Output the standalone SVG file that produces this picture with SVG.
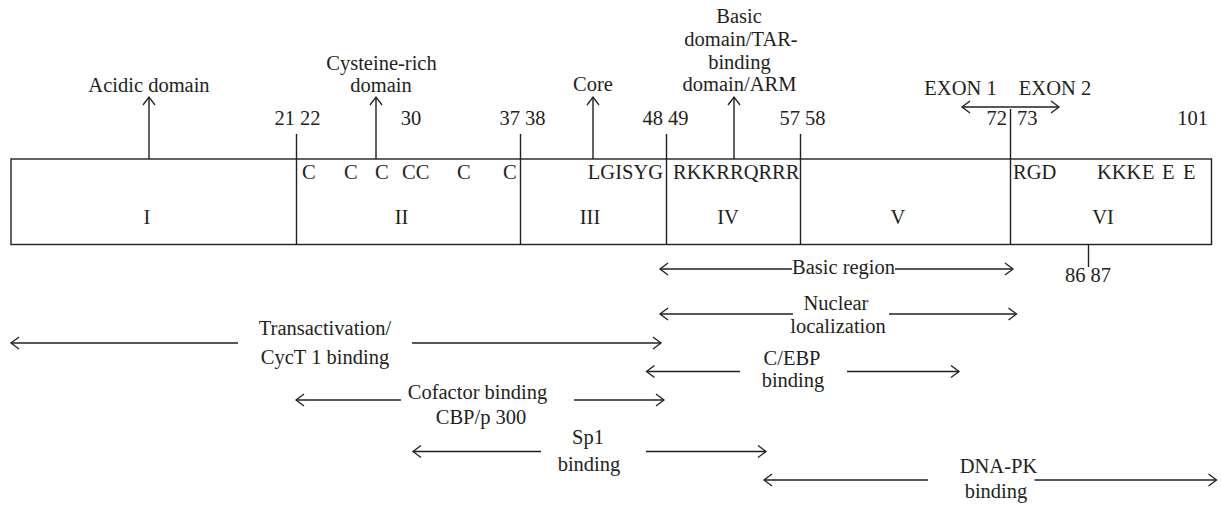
<svg xmlns="http://www.w3.org/2000/svg" width="1221" height="507" viewBox="0 0 1221 507">
<defs>
<style>
text{font-family:"Liberation Serif","Times New Roman",serif;font-size:20.5px;fill:#231f20}
.m{text-anchor:middle}
.e{text-anchor:end}
.ln{stroke:#231f20;stroke-width:1.4;fill:none}
.ar{stroke:#231f20;stroke-width:1.4;fill:none;marker-end:url(#ah)}
</style>
<marker id="ah" markerWidth="12" markerHeight="14" refX="10" refY="7" orient="auto" markerUnits="userSpaceOnUse" viewBox="0 0 12 14">
<path d="M2,1 L10,7 L2,13" fill="none" stroke="#231f20" stroke-width="1.3"/>
</marker>
</defs>
<rect width="1221" height="507" fill="#fff"/>

<g id="protein-bar">
<rect class="ln" x="11" y="159" width="1200.5" height="85.5" stroke-width="1.5"/>
<line class="ln" x1="296.5" y1="134" x2="296.5" y2="244.5"/>
<line class="ln" x1="520.5" y1="134" x2="520.5" y2="244.5"/>
<line class="ln" x1="666.5" y1="134" x2="666.5" y2="244.5"/>
<line class="ln" x1="800.5" y1="134" x2="800.5" y2="244.5"/>
<line class="ln" x1="1010.5" y1="109" x2="1010.5" y2="244.5"/>
<line class="ln" x1="1088.5" y1="244.5" x2="1088.5" y2="267"/>
</g>

<g id="positions">
<text class="m" x="297.5" y="125">21 22</text>
<text class="m" x="411" y="125">30</text>
<text class="m" x="522.5" y="125">37 38</text>
<text class="m" x="665.5" y="125">48 49</text>
<text class="m" x="802.5" y="125">57 58</text>
<text class="e" x="1007" y="125">72</text>
<text x="1017" y="125">73</text>
<text class="e" x="1208" y="125">101</text>
<text class="m" x="1088" y="282">86 87</text>
</g>

<g id="residues">
<text x="302" y="179">C</text>
<text x="344" y="179">C</text>
<text x="375" y="179">C</text>
<text x="402" y="179">CC</text>
<text x="457" y="179">C</text>
<text x="503" y="179">C</text>
<text class="e" x="663" y="179">LGISYG</text>
<text x="673" y="179">RKKRRQRRR</text>
<text x="1013" y="179">RGD</text>
<text x="1097" y="179">KKK</text>
<text x="1142" y="179">E</text>
<text x="1162" y="179">E</text>
<text x="1183" y="179">E</text>
</g>

<g id="domain-I"><text class="m" x="147" y="224">I</text></g>
<g id="domain-II"><text class="m" x="401.5" y="224">II</text></g>
<g id="domain-III"><text class="m" x="590" y="224">III</text></g>
<g id="domain-IV"><text class="m" x="728" y="224">IV</text></g>
<g id="domain-V"><text class="m" x="898" y="224">V</text></g>
<g id="domain-VI"><text class="m" x="1103" y="224">VI</text></g>

<g id="label-acidic"><text class="m" x="149" y="92">Acidic domain</text></g>
<g id="label-cysteine"><text class="m" x="381.5" y="70">Cysteine-rich</text><text class="m" x="381" y="92">domain</text></g>
<g id="label-core"><text class="m" x="593" y="91">Core</text></g>
<g id="label-basic">
<text class="m" x="739" y="22.5">Basic</text>
<text class="m" x="741" y="46">domain/TAR-</text>
<text class="m" x="739.5" y="68.5">binding</text>
<text class="m" x="739.5" y="91">domain/ARM</text>
</g>
<g id="label-exon">
<text class="m" x="960.5" y="95">EXON 1</text>
<text class="m" x="1055" y="95">EXON 2</text>
</g>

<g id="label-basic-region"><text class="m" x="843.5" y="274">Basic region</text></g>
<g id="label-nuclear"><text class="m" x="836" y="310">Nuclear</text><text class="m" x="838" y="333">localization</text></g>
<g id="label-transactivation"><text class="m" x="325" y="335">Transactivation/</text><text class="m" x="325" y="364">CycT 1 binding</text></g>
<g id="label-cebp"><text class="m" x="792" y="365">C/EBP</text><text class="m" x="793" y="387">binding</text></g>
<g id="label-cofactor"><text class="m" x="477.5" y="399">Cofactor binding</text><text class="m" x="481" y="424">CBP/p 300</text></g>
<g id="label-sp1"><text class="m" x="588" y="444">Sp1</text><text class="m" x="589" y="471">binding</text></g>
<g id="label-dnapk"><text class="m" x="998.5" y="473">DNA-PK</text><text class="m" x="996" y="498">binding</text></g>

<g id="connectors">
<line class="ar" x1="149" y1="159" x2="149" y2="97"/>
<line class="ar" x1="376" y1="159" x2="376" y2="97"/>
<line class="ar" x1="593" y1="159" x2="593" y2="97"/>
<line class="ar" x1="734" y1="159" x2="734" y2="97"/>
<line class="ar" x1="1010.5" y1="107" x2="962" y2="107"/>
<line class="ar" x1="1010.5" y1="107" x2="1059" y2="107"/>

<line class="ar" x1="792" y1="269" x2="660" y2="269"/>
<line class="ar" x1="895" y1="269" x2="1013" y2="269"/>
<line class="ar" x1="793" y1="314" x2="660" y2="314"/>
<line class="ar" x1="889" y1="314" x2="1016.5" y2="314"/>
<line class="ar" x1="238" y1="343" x2="11" y2="343"/>
<line class="ar" x1="412" y1="343" x2="661" y2="343"/>
<line class="ar" x1="740" y1="371.5" x2="646.5" y2="371.5"/>
<line class="ar" x1="847" y1="371.5" x2="959" y2="371.5"/>
<line class="ar" x1="401" y1="400" x2="296" y2="400"/>
<line class="ar" x1="574" y1="400" x2="664" y2="400"/>
<line class="ar" x1="541" y1="451.5" x2="413" y2="451.5"/>
<line class="ar" x1="646" y1="451.5" x2="766" y2="451.5"/>
<line class="ar" x1="928" y1="480" x2="764" y2="480"/>
<line class="ar" x1="1034.5" y1="480" x2="1216.5" y2="480"/>
</g>
</svg>
